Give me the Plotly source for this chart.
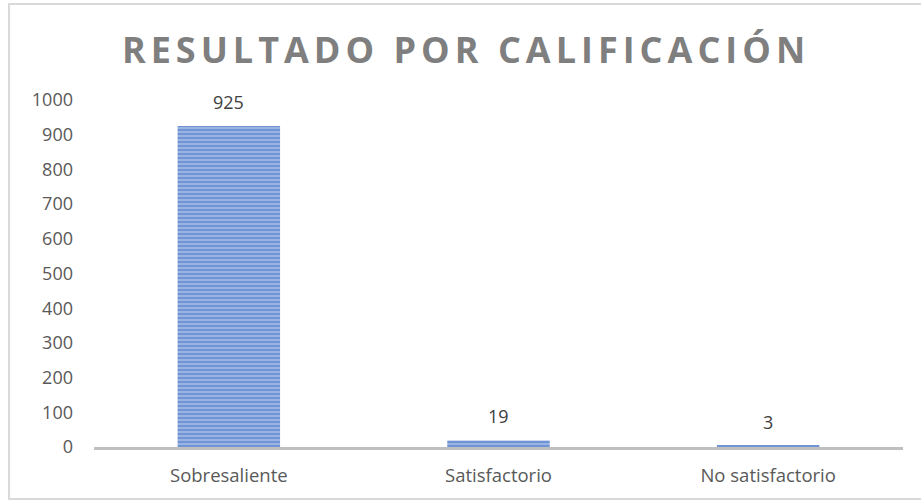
import plotly.graph_objects as go

categories = ["Sobresaliente", "Satisfactorio", "No satisfactorio"]
values = [925, 19, 3]
y_ticks = [0, 100, 200, 300, 400, 500, 600, 700, 800, 900, 1000]

fig = go.Figure()
fig.add_trace(go.Bar(
    x=categories, y=values,
    marker=dict(
        color="#8FAADC",
        line=dict(width=0),
        pattern=dict(shape="-", fgcolor="#4472C4", bgcolor="#9DB6E4", size=4, solidity=0.55),
    ),
))

annotations = [
    dict(x=c, y=v, xref="x", yref="y", text=str(v), showarrow=False, yanchor="bottom", yshift=10,
         font=dict(family="Open Sans", size=18, color="#404040"))
    for c, v in zip(categories, values)
]

fig.update_layout(
    width=921, height=502,
    margin=dict(l=94, r=18, t=100, b=55),
    paper_bgcolor="white", plot_bgcolor="white",
    bargap=0.62,
    showlegend=False,
    annotations=annotations,
    title=dict(text="RESULTADO POR CALIFICACIÓN", x=0.506, xanchor="center", y=0.9, yanchor="middle",
               font=dict(family="Open Sans", size=36, color="#7F7F7F", weight="bold")),
    xaxis=dict(showline=True, linecolor="#BFBFBF", linewidth=3, ticks="", showgrid=False,
               ticklabelstandoff=10,
               tickfont=dict(family="Open Sans", size=18.5, color="#595959")),
    yaxis=dict(range=[0, 1000], tickvals=y_ticks, showgrid=False, zeroline=False, showline=False,
               ticks="", ticklabelstandoff=20,
               tickfont=dict(family="Open Sans", size=18, color="#595959")),
    shapes=[dict(type="rect", xref="paper", yref="paper", x0=-0.105, x1=1.06, y0=-0.15, y1=1.277,
                 line=dict(color="#D9D9D9", width=2), fillcolor="rgba(0,0,0,0)", layer="below")],
)

post = """
document.body.style.margin='0';
var gd = document.getElementById('{plot_id}');
function fixTitle(){ var t = gd.querySelector('.gtitle'); if (t) { t.setAttribute('letter-spacing', '5'); } }
fixTitle();
gd.on('plotly_afterplot', fixTitle);
"""

fig.write_html("out.html", post_script=post, config={"displayModeBar": False})
